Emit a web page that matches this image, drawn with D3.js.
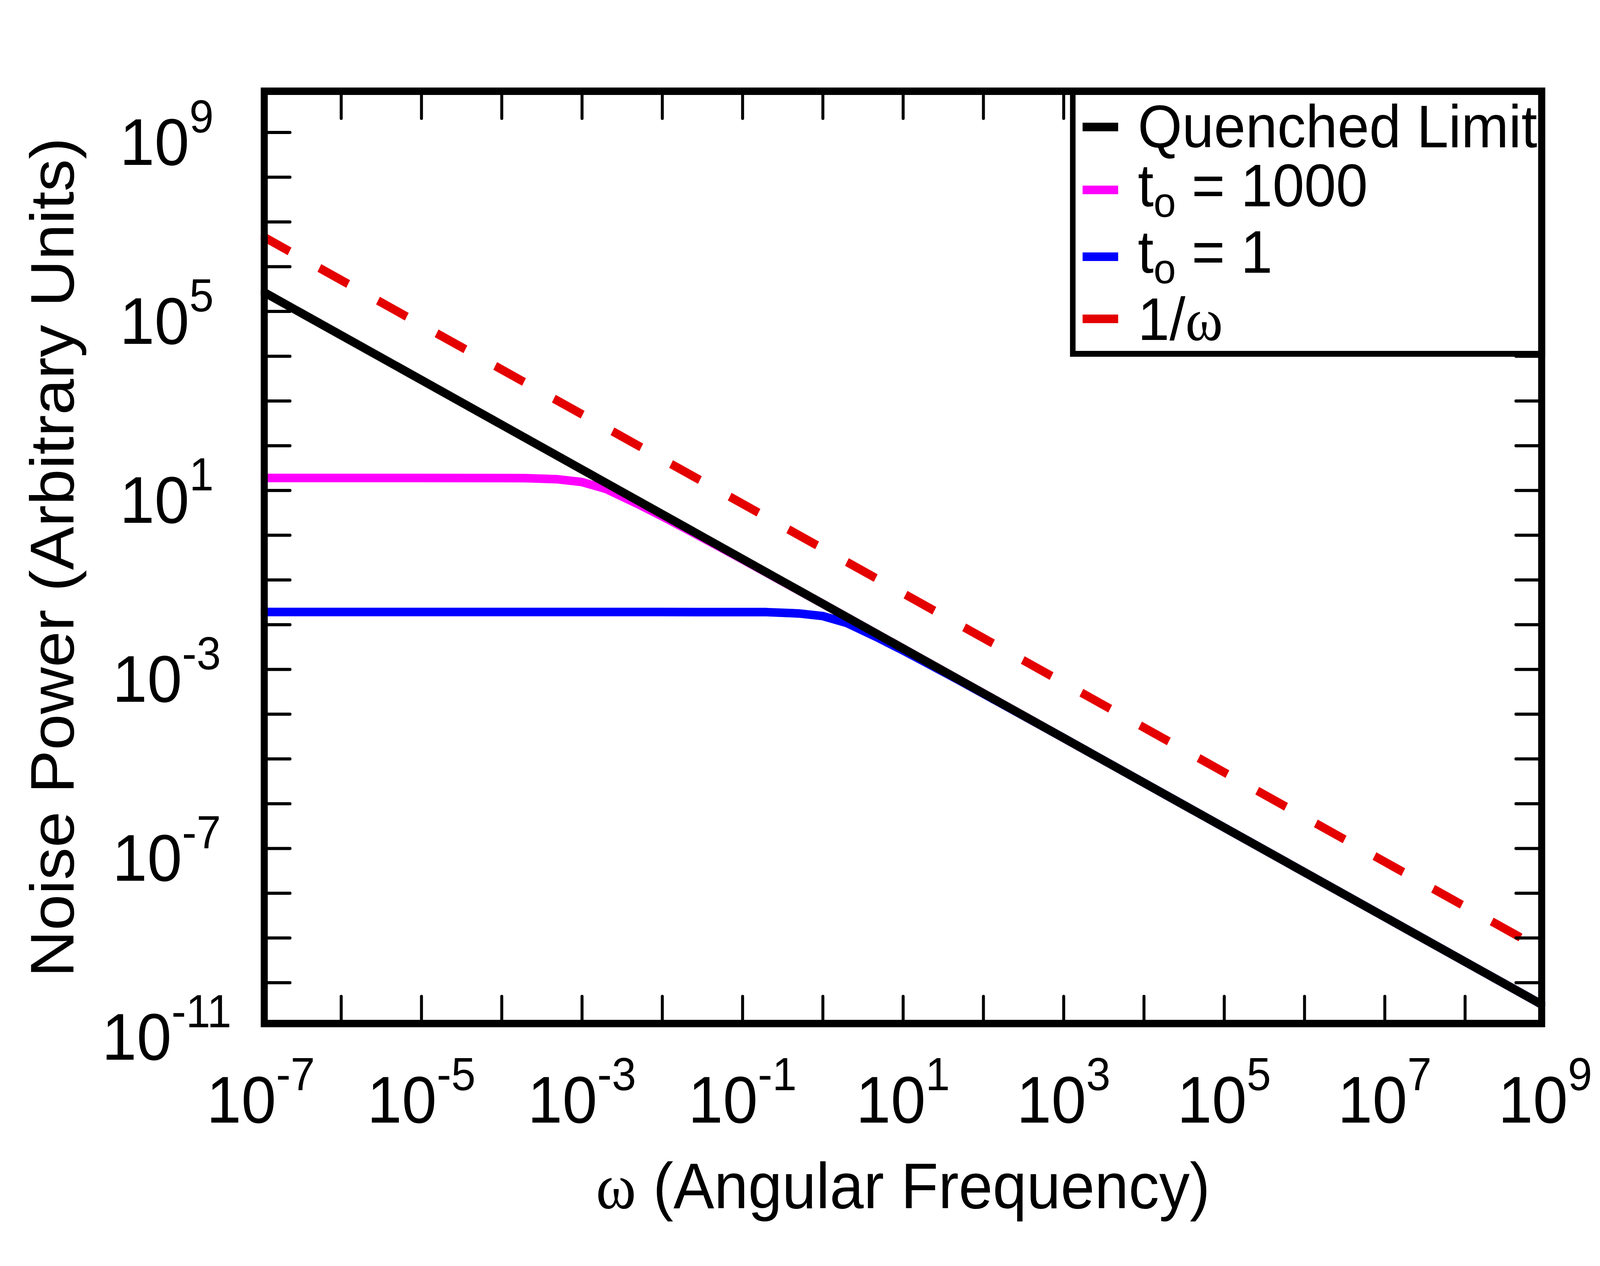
<!DOCTYPE html>
<html>
<head>
<meta charset="utf-8">
<script src="https://cdn.jsdelivr.net/npm/d3@7"></script>
<style>
  html, body { margin: 0; padding: 0; background: #fff; overflow: hidden; }
  #wrapper svg { display: block; width: 100vw; height: 100vh; }
  text { font-family: 'Liberation Sans', Arial, sans-serif; fill: #000; }
  .greek { font-family: 'Liberation Serif', 'Times New Roman', serif; }
</style>
</head>
<body>
<div id="wrapper"></div>
<script>
// values

const xTickExponents = [-7, -5, -3, -1, 1, 3, 5, 7, 9]
const yTickExponents = [-11, -7, -3, 1, 5, 9]

const quenchedOmega = [1e-7, 1e-3, 1e3, 1e9]
const quenchedPower = [2.92e5, 29.2, 2.92e-5, 2.92e-11]

const inverseOmega = [1e-7, 1e1, 1e9]
const inversePower = [5.0e6, 5.0e-2, 5.0e-10]

const t1000Omega = [1e-7, 1e-5, 1e-4, 2e-4, 5e-4, 1e-3, 2e-3, 5e-3, 1e-2, 2e-2, 5e-2, 1e-1, 1, 1e9]
const t1000Power = [18.8, 18.8, 18.75, 18.6, 17.6, 15.3, 10.7, 4.9, 2.6, 1.36, 0.56, 0.285, 0.0292, 2.92e-11]

const t1Omega = [1e-7, 1e-2, 1e-1, 2e-1, 5e-1, 1, 2, 5, 10, 20, 50, 100, 1e3, 1e9]
const t1Power = [0.019, 0.019, 0.01898, 0.0189, 0.0177, 0.01545, 0.0108, 0.00495, 0.00263, 0.00136, 0.000564, 0.000285, 2.92e-5, 2.92e-11]

const legendLabels = ['Quenched Limit', 't_o = 1000', 't_o = 1', '1/ω']

function drawChart() {
  // 1. Build series

  const zip = (xs, ys) => xs.map((x, i) => ({ omega: x, power: ys[i] }))
  const series = [
    { key: 'inverse', color: '#e50000', dash: '88,91', values: zip(inverseOmega, inversePower) },
    { key: 't1000', color: '#ff00ff', dash: null, values: zip(t1000Omega, t1000Power) },
    { key: 't1', color: '#0000ff', dash: null, values: zip(t1Omega, t1Power) },
    { key: 'quenched', color: '#000000', dash: null, values: zip(quenchedOmega, quenchedPower) },
  ]
  const legendColors = ['#000000', '#ff00ff', '#0000ff', '#e50000']

  // 2. Dimensions

  const dimensions = {
    width: 4320,
    height: 3240,
    left: 704,
    right: 4172,
    top: 224,
    bottom: 2629,
    frame: 19,
  }

  // 3. Canvas: the 4320x3240 drawing is mapped onto the whole viewport

  const svg = d3
    .select('#wrapper')
    .append('svg')
    .attr('viewBox', `0 0 ${dimensions.width} ${dimensions.height}`)
    .attr('preserveAspectRatio', 'none')

  svg.append('rect')
    .attr('width', dimensions.width)
    .attr('height', dimensions.height)
    .attr('fill', '#fff')

  // 4. Scales

  const xScale = d3.scaleLog()
    .domain([1e-7, 1e9])
    .range([dimensions.left, dimensions.right])

  const yScale = d3.scaleLog()
    .domain([1e-11, 1e10])
    .range([dimensions.bottom, dimensions.top])

  // 5. Lines

  svg.append('clipPath')
    .attr('id', 'plot-clip')
    .append('rect')
    .attr('x', dimensions.left)
    .attr('y', dimensions.top)
    .attr('width', dimensions.right - dimensions.left)
    .attr('height', dimensions.bottom - dimensions.top)

  const lineGenerator = d3.line()
    .x((d) => xScale(d.omega))
    .y((d) => yScale(d.power))

  svg.append('g')
    .attr('clip-path', 'url(#plot-clip)')
    .selectAll('path')
    .data(series)
    .join('path')
    .attr('d', (d) => lineGenerator(d.values))
    .attr('fill', 'none')
    .attr('stroke', (d) => d.color)
    .attr('stroke-width', 22)
    .attr('stroke-dasharray', (d) => d.dash)
    .attr('stroke-linejoin', 'round')

  // 6. Ticks on all four sides, pointing inward

  const inner = {
    left: dimensions.left + dimensions.frame,
    right: dimensions.right - dimensions.frame,
    top: dimensions.top + dimensions.frame,
    bottom: dimensions.bottom - dimensions.frame,
  }
  const xDecades = d3.range(-6, 9).map((e) => Math.pow(10, e))
  const yDecades = d3.range(-10, 10).map((e) => Math.pow(10, e))
  const tickLength = 60

  const axes = [
    { gen: d3.axisBottom(xScale).tickValues(xDecades), at: `translate(0, ${inner.bottom})` },
    { gen: d3.axisTop(xScale).tickValues(xDecades), at: `translate(0, ${inner.top})` },
    { gen: d3.axisLeft(yScale).tickValues(yDecades), at: `translate(${inner.left}, 0)` },
    { gen: d3.axisRight(yScale).tickValues(yDecades), at: `translate(${inner.right}, 0)` },
  ]
  axes.forEach((a) => {
    const g = svg.append('g')
      .attr('transform', a.at)
      .call(a.gen.tickSize(-tickLength).tickFormat(''))
    g.select('.domain').remove()
    g.selectAll('.tick line')
      .attr('stroke', '#000')
      .attr('stroke-width', 8)
      .attr('stroke-linecap', 'round')
  })

  // 7. Legend

  const legend = {
    x: 2889,
    y: dimensions.top,
    right: dimensions.right,
    bottom: 913,
    border: 15,
    swatchX: 2923,
    swatchLength: 96,
    textX: 3072,
    baselines: [377, 528, 698, 870],
    swatchY: [325, 486, 657, 816],
  }

  svg.append('rect')
    .attr('x', legend.x + legend.border / 2)
    .attr('y', legend.y + legend.border / 2)
    .attr('width', legend.right - legend.x - legend.border)
    .attr('height', legend.bottom - legend.y - legend.border)
    .attr('fill', '#fff')
    .attr('stroke', '#000')
    .attr('stroke-width', legend.border)

  const rows = svg.append('g')
    .selectAll('g')
    .data(legendLabels)
    .join('g')

  rows.append('line')
    .attr('x1', legend.swatchX)
    .attr('x2', legend.swatchX + legend.swatchLength)
    .attr('y1', (d, i) => legend.swatchY[i])
    .attr('y2', (d, i) => legend.swatchY[i])
    .attr('stroke', (d, i) => legendColors[i])
    .attr('stroke-width', 22)

  rows.each(function (label, i) {
    const text = d3.select(this)
      .append('text')
      .attr('x', legend.textX)
      .attr('y', legend.baselines[i])
      .attr('font-size', 154)
    if (label.startsWith('t_o')) {
      text.append('tspan').text('t')
      text.append('tspan').attr('font-size', 108).attr('dy', 27).text('o')
      text.append('tspan').attr('dy', -27).text(label.slice(3))
    } else if (label.includes('ω')) {
      text.append('tspan').text(label.replace('ω', ''))
      text.append('tspan').attr('class', 'greek').text('ω')
    } else {
      text.text(label)
    }
  })

  // 8. Frame

  svg.append('rect')
    .attr('x', dimensions.left + dimensions.frame / 2)
    .attr('y', dimensions.top + dimensions.frame / 2)
    .attr('width', dimensions.right - dimensions.left - dimensions.frame)
    .attr('height', dimensions.bottom - dimensions.top - dimensions.frame)
    .attr('fill', 'none')
    .attr('stroke', '#000')
    .attr('stroke-width', dimensions.frame)

  // 9. Tick labels (10 with superscript exponent)

  const powerLabel = (sel, exponent) => {
    sel.append('tspan').text('10')
    sel.append('tspan').attr('font-size', 118).attr('dy', -83).text(exponent)
  }

  svg.append('g')
    .selectAll('text')
    .data(yTickExponents)
    .join('text')
    .attr('x', 450)
    .attr('y', (d) => yScale(Math.pow(10, d)) + 83)
    .attr('font-size', 169)
    .attr('text-anchor', 'middle')
    .each(function (d) { powerLabel(d3.select(this), d) })

  svg.append('g')
    .selectAll('text')
    .data(xTickExponents)
    .join('text')
    .attr('x', (d) => xScale(Math.pow(10, d)))
    .attr('y', 2873)
    .attr('font-size', 169)
    .attr('text-anchor', 'middle')
    .each(function (d) { powerLabel(d3.select(this), d) })

  // 10. Axis titles

  const xTitle = svg.append('text')
    .attr('x', (dimensions.left + dimensions.right) / 2)
    .attr('y', 3092)
    .attr('font-size', 165)
    .attr('text-anchor', 'middle')
  xTitle.append('tspan').attr('class', 'greek').text('ω')
  xTitle.append('tspan').text(' (Angular Frequency)')

  svg.append('text')
    .attr('transform', `translate(198, ${(dimensions.top + dimensions.bottom) / 2}) rotate(-90)`)
    .attr('font-size', 166)
    .attr('text-anchor', 'middle')
    .text('Noise Power (Arbitrary Units)')
}
drawChart()
</script>
</body>
</html>
